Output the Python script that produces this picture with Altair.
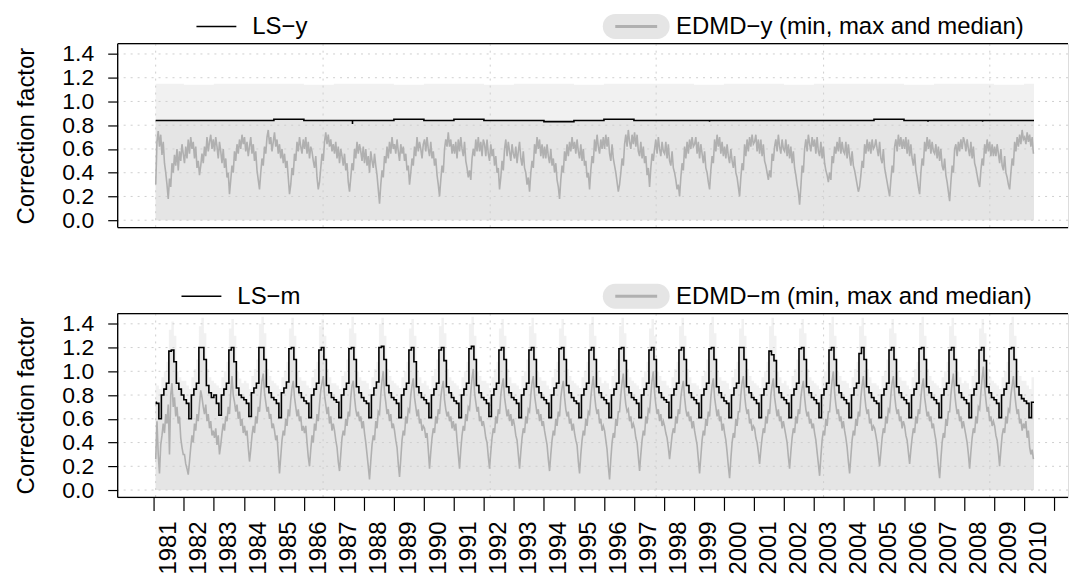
import altair as alt
import pandas as pd

FONT = "Liberation Sans"
FS = 24
W, H = 953, 184.4
XDOM = [1979.794, 2011.466]
YDOM = [-0.062, 1.4865]
START, END = 1981.06, 2010.333
GAP = 85.6

years = list(range(1981, 2011))

# ---- top panel (yearly correction) ----
ls_y = [0.84, 0.84, 0.84, 0.84, 0.85, 0.84, 0.84, 0.84, 0.85, 0.84,
        0.85, 0.84, 0.84, 0.83, 0.84, 0.85, 0.84, 0.84, 0.84, 0.84,
        0.84, 0.84, 0.84, 0.84, 0.85, 0.84, 0.84, 0.84, 0.84, 0.84]
edmd_y_min = [0.0] * 30
edmd_y_max = [1.15, 1.14, 1.15, 1.15, 1.15, 1.14, 1.15, 1.15, 1.14, 1.15,
              1.15, 1.14, 1.15, 1.15, 1.14, 1.15, 1.15, 1.15, 1.14, 1.15,
              1.15, 1.14, 1.15, 1.15, 1.15, 1.14, 1.15, 1.15, 1.14, 1.15]
ls_y_spike_x = [1987.62, 1999.52, 2006.80, 2008.62]
ls_y_spike_v = [0.81, 0.83, 0.83, 0.83]

med_y = [
 [0.30,0.66,0.75,0.62,0.72,0.55,0.66,0.48,0.40,0.30,0.18,0.35,0.28,0.48,0.40,0.55,0.46,0.60,0.42,0.58,0.50,0.64,0.56],
 [0.48,0.62,0.52,0.68,0.56,0.70,0.60,0.66,0.52,0.62,0.44,0.50,0.38,0.46,0.56,0.48,0.62,0.54,0.70,0.58,0.66,0.72,0.60,0.68],
 [0.58,0.70,0.62,0.52,0.66,0.58,0.48,0.60,0.44,0.52,0.36,0.40,0.22,0.34,0.46,0.40,0.58,0.50,0.64,0.56,0.68,0.60,0.72,0.64],
 [0.70,0.58,0.66,0.54,0.62,0.70,0.56,0.64,0.50,0.58,0.42,0.34,0.26,0.40,0.52,0.46,0.62,0.56,0.70,0.76,0.64,0.70,0.58,0.66],
 [0.74,0.62,0.68,0.56,0.64,0.52,0.60,0.48,0.56,0.44,0.50,0.36,0.22,0.30,0.44,0.38,0.56,0.50,0.66,0.58,0.70,0.62,0.56,0.68],
 [0.60,0.70,0.56,0.66,0.52,0.62,0.58,0.50,0.44,0.54,0.36,0.26,0.32,0.44,0.56,0.50,0.66,0.74,0.64,0.72,0.62,0.68,0.58,0.64],
 [0.56,0.66,0.52,0.62,0.48,0.60,0.54,0.46,0.56,0.42,0.48,0.32,0.24,0.36,0.48,0.42,0.60,0.52,0.66,0.56,0.64,0.58,0.50,0.62],
 [0.48,0.60,0.46,0.54,0.40,0.58,0.50,0.44,0.56,0.46,0.38,0.26,0.14,0.30,0.42,0.36,0.54,0.48,0.62,0.52,0.66,0.56,0.70,0.60],
 [0.64,0.56,0.68,0.58,0.50,0.64,0.56,0.62,0.50,0.56,0.42,0.46,0.30,0.40,0.52,0.46,0.62,0.54,0.70,0.58,0.66,0.60,0.52,0.64],
 [0.68,0.58,0.70,0.60,0.54,0.66,0.52,0.58,0.46,0.52,0.38,0.30,0.20,0.34,0.46,0.40,0.60,0.68,0.62,0.74,0.62,0.68,0.56,0.64],
 [0.56,0.66,0.52,0.68,0.58,0.70,0.60,0.54,0.66,0.50,0.44,0.36,0.42,0.34,0.52,0.60,0.54,0.68,0.58,0.70,0.58,0.66,0.54,0.68],
 [0.64,0.54,0.68,0.56,0.50,0.64,0.54,0.60,0.46,0.54,0.40,0.44,0.26,0.36,0.50,0.42,0.60,0.68,0.54,0.66,0.58,0.50,0.64,0.56],
 [0.52,0.62,0.48,0.58,0.66,0.52,0.46,0.58,0.44,0.40,0.30,0.36,0.24,0.40,0.50,0.44,0.64,0.56,0.70,0.60,0.68,0.54,0.64,0.52],
 [0.62,0.52,0.64,0.54,0.48,0.60,0.46,0.52,0.40,0.48,0.34,0.28,0.18,0.34,0.46,0.40,0.58,0.50,0.64,0.54,0.66,0.58,0.70,0.60],
 [0.66,0.56,0.68,0.58,0.52,0.64,0.50,0.60,0.46,0.50,0.36,0.40,0.26,0.42,0.54,0.48,0.68,0.58,0.72,0.62,0.56,0.68,0.60,0.70],
 [0.60,0.72,0.62,0.70,0.56,0.50,0.64,0.52,0.46,0.40,0.32,0.24,0.30,0.40,0.52,0.46,0.64,0.72,0.62,0.76,0.66,0.60,0.72,0.64],
 [0.74,0.62,0.72,0.58,0.54,0.66,0.52,0.62,0.48,0.54,0.38,0.44,0.28,0.44,0.56,0.50,0.60,0.68,0.56,0.70,0.60,0.54,0.66,0.58],
 [0.56,0.66,0.52,0.64,0.50,0.46,0.58,0.44,0.40,0.34,0.26,0.30,0.20,0.36,0.48,0.42,0.62,0.52,0.66,0.56,0.68,0.60,0.70,0.62],
 [0.64,0.70,0.56,0.66,0.52,0.64,0.56,0.48,0.58,0.44,0.40,0.32,0.26,0.42,0.54,0.48,0.68,0.58,0.72,0.62,0.70,0.56,0.66,0.54],
 [0.62,0.52,0.64,0.54,0.48,0.60,0.50,0.44,0.54,0.40,0.36,0.28,0.20,0.36,0.48,0.42,0.64,0.54,0.68,0.58,0.70,0.62,0.72,0.64],
 [0.66,0.72,0.58,0.68,0.56,0.68,0.54,0.64,0.50,0.46,0.40,0.34,0.42,0.36,0.56,0.50,0.62,0.68,0.58,0.72,0.62,0.56,0.68,0.60],
 [0.58,0.68,0.54,0.64,0.52,0.62,0.48,0.58,0.44,0.38,0.30,0.24,0.13,0.28,0.46,0.40,0.60,0.68,0.58,0.72,0.64,0.58,0.70,0.62],
 [0.68,0.56,0.70,0.58,0.54,0.66,0.52,0.62,0.48,0.42,0.38,0.32,0.40,0.34,0.54,0.48,0.62,0.56,0.66,0.58,0.70,0.56,0.66,0.58],
 [0.56,0.66,0.52,0.64,0.54,0.46,0.58,0.46,0.42,0.36,0.30,0.24,0.28,0.38,0.50,0.44,0.64,0.56,0.68,0.58,0.66,0.56,0.68,0.60],
 [0.62,0.68,0.60,0.54,0.66,0.52,0.48,0.60,0.44,0.38,0.32,0.26,0.20,0.34,0.46,0.40,0.62,0.68,0.58,0.72,0.62,0.70,0.60,0.68],
 [0.60,0.70,0.56,0.68,0.54,0.64,0.52,0.46,0.56,0.42,0.36,0.28,0.22,0.40,0.52,0.46,0.66,0.58,0.70,0.60,0.68,0.56,0.66,0.58],
 [0.56,0.64,0.52,0.62,0.50,0.60,0.46,0.42,0.52,0.38,0.32,0.24,0.16,0.32,0.46,0.40,0.60,0.64,0.54,0.66,0.58,0.68,0.60,0.70],
 [0.66,0.58,0.68,0.60,0.54,0.66,0.52,0.62,0.48,0.44,0.38,0.32,0.28,0.42,0.52,0.46,0.64,0.56,0.68,0.58,0.66,0.54,0.64,0.54],
 [0.62,0.54,0.64,0.56,0.48,0.60,0.46,0.42,0.54,0.40,0.36,0.30,0.26,0.40,0.52,0.46,0.66,0.58,0.70,0.62,0.72,0.64,0.76,0.68],
 [0.70,0.64,0.74,0.66,0.72,0.62,0.70,0.56],
]

# ---- bottom panel (monthly correction) ----
ls_m = [
 [0.74,0.73,0.60,0.80,0.85,0.90,1.17,1.18,1.08,0.90,0.85,0.80],
 [0.76,0.73,0.60,0.80,0.85,0.90,1.20,1.20,1.10,0.88,0.82,0.78],
 [0.80,0.73,0.63,0.80,0.85,0.90,1.18,1.20,1.08,0.86,0.80,0.78],
 [0.76,0.73,0.62,0.82,0.86,0.90,1.20,1.20,1.10,0.87,0.82,0.78],
 [0.76,0.73,0.61,0.82,0.86,0.91,1.19,1.20,1.10,0.87,0.82,0.78],
 [0.75,0.73,0.61,0.80,0.85,0.90,1.18,1.20,1.10,0.88,0.82,0.78],
 [0.76,0.74,0.61,0.80,0.85,0.90,1.19,1.20,1.10,0.87,0.82,0.78],
 [0.75,0.73,0.61,0.80,0.86,0.91,1.20,1.21,1.10,0.88,0.82,0.78],
 [0.76,0.73,0.61,0.80,0.85,0.90,1.18,1.20,1.08,0.87,0.82,0.78],
 [0.76,0.73,0.61,0.80,0.85,0.90,1.18,1.20,1.09,0.87,0.82,0.78],
 [0.75,0.73,0.61,0.80,0.85,0.90,1.19,1.21,1.10,0.88,0.82,0.78],
 [0.76,0.73,0.62,0.80,0.85,0.90,1.18,1.20,1.10,0.87,0.82,0.78],
 [0.76,0.73,0.61,0.80,0.85,0.90,1.18,1.20,1.10,0.87,0.82,0.78],
 [0.76,0.73,0.61,0.80,0.86,0.90,1.19,1.20,1.10,0.88,0.82,0.78],
 [0.75,0.73,0.61,0.80,0.85,0.90,1.18,1.20,1.10,0.87,0.82,0.78],
 [0.76,0.73,0.61,0.80,0.85,0.90,1.19,1.20,1.09,0.87,0.82,0.78],
 [0.76,0.73,0.61,0.80,0.85,0.90,1.18,1.20,1.10,0.87,0.82,0.78],
 [0.76,0.74,0.61,0.80,0.85,0.90,1.18,1.20,1.10,0.88,0.82,0.78],
 [0.76,0.73,0.61,0.80,0.85,0.90,1.19,1.20,1.10,0.87,0.82,0.78],
 [0.75,0.73,0.61,0.80,0.86,0.90,1.20,1.20,1.10,0.87,0.82,0.78],
 [0.76,0.73,0.61,0.80,0.85,0.90,1.17,1.14,1.09,0.87,0.82,0.78],
 [0.76,0.73,0.61,0.80,0.85,0.90,1.19,1.20,1.10,0.87,0.82,0.78],
 [0.76,0.73,0.61,0.80,0.85,0.90,1.18,1.20,1.10,0.88,0.82,0.78],
 [0.76,0.73,0.61,0.80,0.86,0.90,1.15,1.20,1.10,0.87,0.82,0.78],
 [0.75,0.73,0.61,0.80,0.85,0.90,1.18,1.20,1.10,0.87,0.82,0.78],
 [0.76,0.73,0.61,0.80,0.85,0.90,1.19,1.20,1.10,0.87,0.82,0.78],
 [0.76,0.73,0.61,0.80,0.85,0.90,1.18,1.20,1.10,0.88,0.82,0.78],
 [0.76,0.73,0.61,0.80,0.85,0.90,1.18,1.20,1.09,0.87,0.82,0.78],
 [0.76,0.73,0.61,0.80,0.85,0.90,1.19,1.20,1.10,0.87,0.80,0.77],
 [0.75,0.73,0.61,0.74],
]
edmd_m_max = [
 [0.90,0.88,0.85,0.95,1.00,1.08,1.35,1.42,1.30,1.00,0.95,0.92],
 [0.92,0.88,0.85,0.95,1.02,1.10,1.38,1.45,1.32,1.02,0.95,0.92],
 [0.90,0.88,0.86,0.95,1.00,1.08,1.36,1.44,1.30,1.00,0.94,0.90],
 [0.92,0.90,0.85,0.96,1.02,1.10,1.40,1.46,1.32,1.02,0.96,0.92],
 [0.90,0.88,0.85,0.95,1.00,1.08,1.36,1.45,1.30,1.00,0.95,0.92],
 [0.92,0.88,0.86,0.95,1.02,1.08,1.38,1.44,1.30,1.02,0.95,0.90],
 [0.90,0.88,0.85,0.96,1.00,1.10,1.36,1.46,1.32,1.00,0.95,0.92],
 [0.92,0.90,0.85,0.95,1.02,1.08,1.40,1.45,1.30,1.02,0.96,0.92],
 [0.90,0.88,0.86,0.95,1.00,1.08,1.36,1.44,1.30,1.00,0.95,0.90],
 [0.92,0.88,0.85,0.96,1.02,1.10,1.38,1.45,1.32,1.02,0.95,0.92],
 [0.90,0.88,0.85,0.95,1.00,1.08,1.40,1.46,1.30,1.00,0.96,0.92],
 [0.92,0.90,0.86,0.95,1.02,1.08,1.36,1.44,1.30,1.02,0.95,0.90],
 [0.90,0.88,0.85,0.96,1.00,1.10,1.38,1.45,1.32,1.00,0.95,0.92],
 [0.92,0.88,0.85,0.95,1.02,1.08,1.36,1.44,1.30,1.02,0.96,0.92],
 [0.90,0.88,0.86,0.95,1.00,1.08,1.40,1.46,1.30,1.00,0.95,0.90],
 [0.92,0.90,0.85,0.96,1.02,1.10,1.38,1.45,1.32,1.02,0.95,0.92],
 [0.90,0.88,0.85,0.95,1.00,1.08,1.36,1.44,1.30,1.00,0.96,0.92],
 [0.92,0.88,0.86,0.95,1.02,1.08,1.38,1.45,1.30,1.02,0.95,0.90],
 [0.90,0.88,0.85,0.96,1.00,1.10,1.40,1.46,1.32,1.00,0.95,0.92],
 [0.92,0.90,0.85,0.95,1.02,1.08,1.36,1.44,1.30,1.02,0.96,0.92],
 [0.90,0.88,0.86,0.95,1.00,1.08,1.38,1.45,1.30,1.00,0.95,0.90],
 [0.92,0.88,0.85,0.96,1.02,1.10,1.36,1.44,1.32,1.02,0.95,0.92],
 [0.90,0.88,0.85,0.95,1.00,1.08,1.40,1.46,1.30,1.00,0.96,0.92],
 [0.92,0.90,0.86,0.95,1.02,1.08,1.38,1.45,1.30,1.02,0.95,0.90],
 [0.90,0.88,0.85,0.96,1.00,1.10,1.36,1.44,1.32,1.00,0.95,0.92],
 [0.92,0.88,0.85,0.95,1.02,1.08,1.40,1.46,1.30,1.02,0.96,0.92],
 [0.90,0.88,0.86,0.95,1.00,1.08,1.38,1.45,1.30,1.00,0.95,0.90],
 [0.92,0.90,0.85,0.96,1.02,1.10,1.36,1.44,1.32,1.02,0.95,0.92],
 [0.90,0.88,0.85,0.95,1.00,1.08,1.40,1.46,1.30,1.00,0.96,0.92],
 [0.92,0.88,0.85,0.95],
]

med_m = [
 [0.26,0.58,0.30,0.14,0.38,0.46,0.56,0.48,0.64,0.56,0.72,0.30,0.80,0.90,0.70,0.78,0.62,0.70,0.56,0.62,0.44,0.36,0.30],
 [0.30,0.22,0.18,0.13,0.24,0.36,0.46,0.40,0.56,0.50,0.64,0.58,0.72,0.84,0.78,0.70,0.64,0.72,0.58,0.64,0.52,0.58,0.46,0.50],
 [0.44,0.52,0.38,0.46,0.30,0.38,0.48,0.56,0.50,0.62,0.58,0.70,0.64,0.82,0.96,0.80,0.74,0.66,0.72,0.60,0.66,0.54,0.60,0.48],
 [0.54,0.46,0.50,0.36,0.24,0.34,0.46,0.54,0.48,0.62,0.56,0.70,0.66,0.80,0.92,0.98,0.82,0.74,0.66,0.70,0.60,0.64,0.52,0.56],
 [0.50,0.42,0.46,0.30,0.14,0.28,0.42,0.50,0.46,0.60,0.54,0.68,0.62,0.76,0.86,0.92,0.78,0.70,0.62,0.68,0.58,0.62,0.50,0.54],
 [0.48,0.54,0.40,0.28,0.20,0.34,0.46,0.40,0.56,0.50,0.64,0.58,0.72,0.84,0.90,0.96,0.80,0.72,0.64,0.70,0.56,0.62,0.50,0.56],
 [0.50,0.42,0.36,0.24,0.16,0.30,0.44,0.50,0.46,0.60,0.54,0.66,0.62,0.78,0.88,0.92,0.78,0.68,0.62,0.66,0.58,0.62,0.52,0.58],
 [0.48,0.40,0.30,0.20,0.09,0.24,0.38,0.46,0.42,0.58,0.52,0.66,0.64,0.80,0.92,1.00,0.82,0.74,0.64,0.68,0.58,0.64,0.52,0.56],
 [0.50,0.42,0.36,0.22,0.11,0.26,0.42,0.50,0.46,0.62,0.56,0.68,0.66,0.80,0.88,0.94,0.78,0.70,0.62,0.68,0.56,0.60,0.50,0.54],
 [0.52,0.44,0.48,0.34,0.18,0.32,0.44,0.52,0.48,0.62,0.56,0.68,0.64,0.78,0.86,0.92,0.76,0.68,0.62,0.66,0.58,0.62,0.52,0.58],
 [0.50,0.56,0.42,0.30,0.18,0.34,0.46,0.54,0.50,0.64,0.58,0.70,0.68,0.82,0.94,1.02,0.82,0.74,0.66,0.70,0.58,0.62,0.54,0.58],
 [0.52,0.44,0.40,0.28,0.18,0.32,0.44,0.52,0.48,0.62,0.56,0.68,0.64,0.80,0.88,0.94,0.78,0.70,0.62,0.68,0.58,0.64,0.54,0.60],
 [0.54,0.46,0.42,0.30,0.18,0.32,0.44,0.52,0.48,0.62,0.56,0.68,0.66,0.80,0.90,0.96,0.80,0.72,0.64,0.68,0.58,0.64,0.54,0.58],
 [0.50,0.44,0.38,0.26,0.16,0.30,0.42,0.50,0.46,0.60,0.54,0.66,0.62,0.78,0.86,0.92,0.78,0.68,0.62,0.66,0.56,0.60,0.50,0.56],
 [0.48,0.42,0.38,0.24,0.14,0.30,0.42,0.50,0.46,0.60,0.54,0.66,0.64,0.78,0.88,0.96,0.80,0.70,0.64,0.68,0.56,0.60,0.50,0.54],
 [0.50,0.42,0.34,0.20,0.09,0.26,0.40,0.48,0.44,0.60,0.54,0.66,0.66,0.80,0.90,0.98,0.82,0.72,0.66,0.68,0.58,0.62,0.52,0.56],
 [0.52,0.44,0.40,0.28,0.16,0.30,0.42,0.50,0.46,0.62,0.56,0.68,0.66,0.80,0.92,1.00,0.82,0.72,0.64,0.68,0.58,0.64,0.54,0.58],
 [0.54,0.48,0.44,0.36,0.26,0.36,0.46,0.52,0.48,0.62,0.56,0.68,0.64,0.78,0.86,0.92,0.78,0.68,0.62,0.66,0.58,0.62,0.52,0.58],
 [0.50,0.44,0.38,0.26,0.14,0.28,0.42,0.50,0.46,0.60,0.54,0.66,0.62,0.78,0.88,0.94,0.78,0.70,0.62,0.68,0.58,0.62,0.50,0.56],
 [0.48,0.42,0.32,0.20,0.10,0.26,0.40,0.48,0.44,0.60,0.54,0.66,0.66,0.80,0.90,0.96,0.80,0.70,0.64,0.68,0.56,0.60,0.50,0.54],
 [0.52,0.44,0.40,0.32,0.22,0.34,0.44,0.52,0.48,0.62,0.56,0.68,0.64,0.80,0.88,0.94,0.78,0.70,0.62,0.68,0.58,0.62,0.52,0.58],
 [0.52,0.46,0.40,0.28,0.18,0.32,0.44,0.52,0.48,0.62,0.56,0.68,0.64,0.78,0.86,0.92,0.78,0.68,0.62,0.66,0.56,0.60,0.52,0.56],
 [0.48,0.42,0.32,0.22,0.12,0.28,0.42,0.50,0.46,0.60,0.54,0.66,0.66,0.80,0.92,1.00,0.82,0.72,0.64,0.68,0.58,0.62,0.52,0.58],
 [0.50,0.44,0.36,0.24,0.14,0.28,0.42,0.50,0.46,0.60,0.54,0.66,0.62,0.78,0.88,0.96,0.80,0.70,0.64,0.68,0.56,0.60,0.50,0.54],
 [0.52,0.46,0.40,0.30,0.20,0.32,0.44,0.52,0.48,0.62,0.56,0.68,0.66,0.80,0.90,0.96,0.80,0.70,0.64,0.68,0.58,0.62,0.52,0.58],
 [0.54,0.46,0.42,0.32,0.22,0.34,0.44,0.52,0.48,0.62,0.56,0.68,0.64,0.78,0.88,0.94,0.78,0.70,0.62,0.66,0.58,0.62,0.52,0.56],
 [0.48,0.42,0.32,0.20,0.10,0.26,0.40,0.48,0.44,0.60,0.54,0.66,0.66,0.80,0.90,0.98,0.82,0.72,0.64,0.68,0.58,0.62,0.52,0.58],
 [0.52,0.46,0.40,0.30,0.18,0.32,0.44,0.52,0.48,0.62,0.56,0.70,0.68,0.82,0.94,1.04,0.86,0.76,0.66,0.70,0.58,0.62,0.54,0.58],
 [0.54,0.46,0.42,0.32,0.20,0.34,0.46,0.52,0.48,0.62,0.56,0.68,0.66,0.80,0.88,0.96,0.82,0.72,0.64,0.68,0.56,0.60,0.50,0.56],
 [0.52,0.58,0.44,0.50,0.36,0.30,0.34,0.26],
]

grid_y = [0.0, 0.2, 0.4, 0.6, 0.8, 1.0, 1.2, 1.4]
grid_x = [1981.06, 1986.64, 1992.21, 1997.74, 2003.32, 2008.86]
tick_years = list(range(1981, 2012))
tick_labels = [str(y) for y in range(1981, 2011)]


# ---------- frame builders ----------
def yearly_frame(**cols):
    xs = [START] + years[1:] + [END]
    out = {"x": xs}
    for k, v in cols.items():
        out[k] = list(v) + [v[-1]]
    return pd.DataFrame(out)


def monthly_frame(**cols):
    xs = []
    first = next(iter(cols.values()))
    for yi, row in enumerate(first):
        for m in range(len(row)):
            xs.append(max(START, years[yi] + m / 12))
    xs.append(END)
    out = {"x": xs}
    for k, rows in cols.items():
        flat = [v for row in rows for v in row]
        out[k] = flat + [flat[-1]]
    return pd.DataFrame(out)


def semimonthly_frame(rows):
    xs, vs = [], []
    for yi, row in enumerate(rows):
        k0 = 24 - len(row) if yi == 0 else 0
        for k, v in enumerate(row):
            xs.append(years[yi] + (k + k0 + 0.5) / 24)
            vs.append(v)
    return pd.DataFrame({"x": xs, "v": vs})


XS = alt.Scale(domain=XDOM, nice=False, zero=False)
YS = alt.Scale(domain=YDOM, nice=False, zero=False)
one = alt.Data(values=[{"a": 1}])

yaxis = alt.Axis(values=grid_y, format=".1f", tickSize=10, tickColor="black", tickWidth=1.2,
                 labelFontSize=23, labelFont=FONT, labelColor="black", labelPadding=14,
                 labelFlush=False, labelOverlap=False, domain=False, grid=False,
                 title="Correction factor", titleFontSize=FS, titleFont=FONT,
                 titleFontWeight="normal", titleColor="black", titleX=-84, titleY=H / 2,
                 titleAngle=270, titleAlign="center", titleBaseline="alphabetic")

xaxis_bottom = alt.Axis(values=tick_years, labels=False, tickSize=13, tickColor="black",
                        tickWidth=1.2, domain=False, grid=False, title=None)


def panel(band_df, fuzzy_df, med_df, ls_df, label_ls, label_edmd,
          seg_x, ls_text_x, extra=None, bottom=False, bound_y=0):
    xax = xaxis_bottom if bottom else None

    def XE(field):
        if xax is None:
            return alt.X(field, scale=XS, axis=None)
        return alt.X(field, scale=XS, axis=xax)

    def YE(field):
        return alt.Y(field, scale=YS, axis=yaxis)

    layers = []
    layers.append(alt.Chart(fuzzy_df).mark_area(interpolate="step-after", color="#f1f1f1").encode(
        x=XE("x:Q"), y=YE("lo:Q"), y2="hi:Q"))
    layers.append(alt.Chart(band_df).mark_area(interpolate="step-after", color="#e5e5e5").encode(
        x=XE("x:Q"), y=YE("lo:Q"), y2="hi:Q"))
    gy = pd.DataFrame({"g": grid_y})
    gx = pd.DataFrame({"g": grid_x})
    layers.append(alt.Chart(gy).mark_rule(color="#cfcfcf", strokeDash=[2, 5], strokeWidth=1).encode(
        y=YE("g:Q")))
    layers.append(alt.Chart(gx).mark_rule(color="#cfcfcf", strokeDash=[2, 5], strokeWidth=1).encode(
        x=XE("g:Q")))
    layers.append(alt.Chart(med_df).mark_line(color="#b0b0b0", strokeWidth=1.6).encode(
        x=XE("x:Q"), y=YE("v:Q")))
    layers.append(alt.Chart(ls_df).mark_line(interpolate="step-after", color="black", strokeWidth=1.6).encode(
        x=XE("x:Q"), y=YE("v:Q")))
    if extra is not None:
        layers.append(alt.Chart(extra).mark_rule(color="black", strokeWidth=1.6).encode(
            x=XE("x:Q"), y=YE("v:Q"), y2="v2:Q"))
    # box (left, top, bottom)
    layers.append(alt.Chart(one).mark_rule(color="black", strokeWidth=1.3).encode(
        x=alt.value(0), x2=alt.value(W), y=alt.value(0)))
    layers.append(alt.Chart(one).mark_rule(color="black", strokeWidth=1.3).encode(
        x=alt.value(0), x2=alt.value(W), y=alt.value(H)))
    layers.append(alt.Chart(one).mark_rule(color="black", strokeWidth=1.3).encode(
        x=alt.value(0), y=alt.value(0), y2=alt.value(H)))
    # legend
    ly = -17.3
    layers.append(alt.Chart(one).mark_rule(color="black", strokeWidth=1.4).encode(
        x=alt.value(seg_x[0]), x2=alt.value(seg_x[1]), y=alt.value(ly)))
    layers.append(alt.Chart(one).mark_text(align="left", baseline="middle", fontSize=FS, font=FONT,
                                           color="black", text=label_ls).encode(
        x=alt.value(ls_text_x), y=alt.value(ly + 1)))
    layers.append(alt.Chart(one).mark_rule(color="#e5e5e5", strokeWidth=25, strokeCap="round").encode(
        x=alt.value(499), x2=alt.value(541), y=alt.value(ly)))
    layers.append(alt.Chart(one).mark_rule(color="#b0b0b0", strokeWidth=3).encode(
        x=alt.value(499), x2=alt.value(541), y=alt.value(ly)))
    layers.append(alt.Chart(one).mark_text(align="left", baseline="middle", fontSize=FS, font=FONT,
                                           color="black", text=label_edmd).encode(
        x=alt.value(560), y=alt.value(ly + 1)))
    # invisible rule fixing the outer bounds
    layers.append(alt.Chart(one).mark_rule(color="white", strokeWidth=0.01).encode(
        x=alt.value(-117), x2=alt.value(953), y=alt.value(bound_y)))
    if bottom:
        ticks = pd.DataFrame({"t": tick_years})
        layers.append(alt.Chart(ticks).mark_rule(opacity=0).encode(x=XE("t:Q")))
        labs = pd.DataFrame({"label": tick_labels, "x": [int(s) + 0.5 for s in tick_labels]})
        layers.append(alt.Chart(labs).mark_text(angle=270, align="right", baseline="middle",
                                                fontSize=FS, font=FONT, color="black").encode(
            x=XE("x:Q"), y=alt.value(H + 24), text="label:N"))
    return alt.layer(*layers).properties(width=W, height=H)


top_band = yearly_frame(lo=edmd_y_min, hi=ls_y)
top_fuzzy = yearly_frame(lo=edmd_y_min, hi=edmd_y_max)
top_ls = yearly_frame(v=ls_y)
top_med = semimonthly_frame(med_y)
spikes = pd.DataFrame({"x": ls_y_spike_x, "v": ls_y_spike_v, "v2": [0.84] * len(ls_y_spike_x)})

top = panel(top_band, top_fuzzy, top_med, top_ls,
            "LS\u2212y", "EDMD\u2212y (min, max and median)", (79, 119), 135,
            extra=spikes, bound_y=-42.3)

zeros_m = [[0.0] * len(r) for r in ls_m]
bot_band = monthly_frame(lo=zeros_m, hi=ls_m)
bot_fuzzy = monthly_frame(lo=zeros_m, hi=edmd_m_max)
bot_ls = monthly_frame(v=ls_m)
bot_med = semimonthly_frame(med_m)

bottom = panel(bot_band, bot_fuzzy, bot_med, bot_ls,
               "LS\u2212m", "EDMD\u2212m (min, max and median)", (64, 104), 120,
               bottom=True, bound_y=575 - 312.3)

chart = alt.vconcat(top, bottom, spacing=GAP, bounds="flush").properties(
    padding=0
).configure_view(stroke="transparent").configure(font=FONT)

chart.save("out.html", embed_options={"renderer": "svg", "actions": False})
